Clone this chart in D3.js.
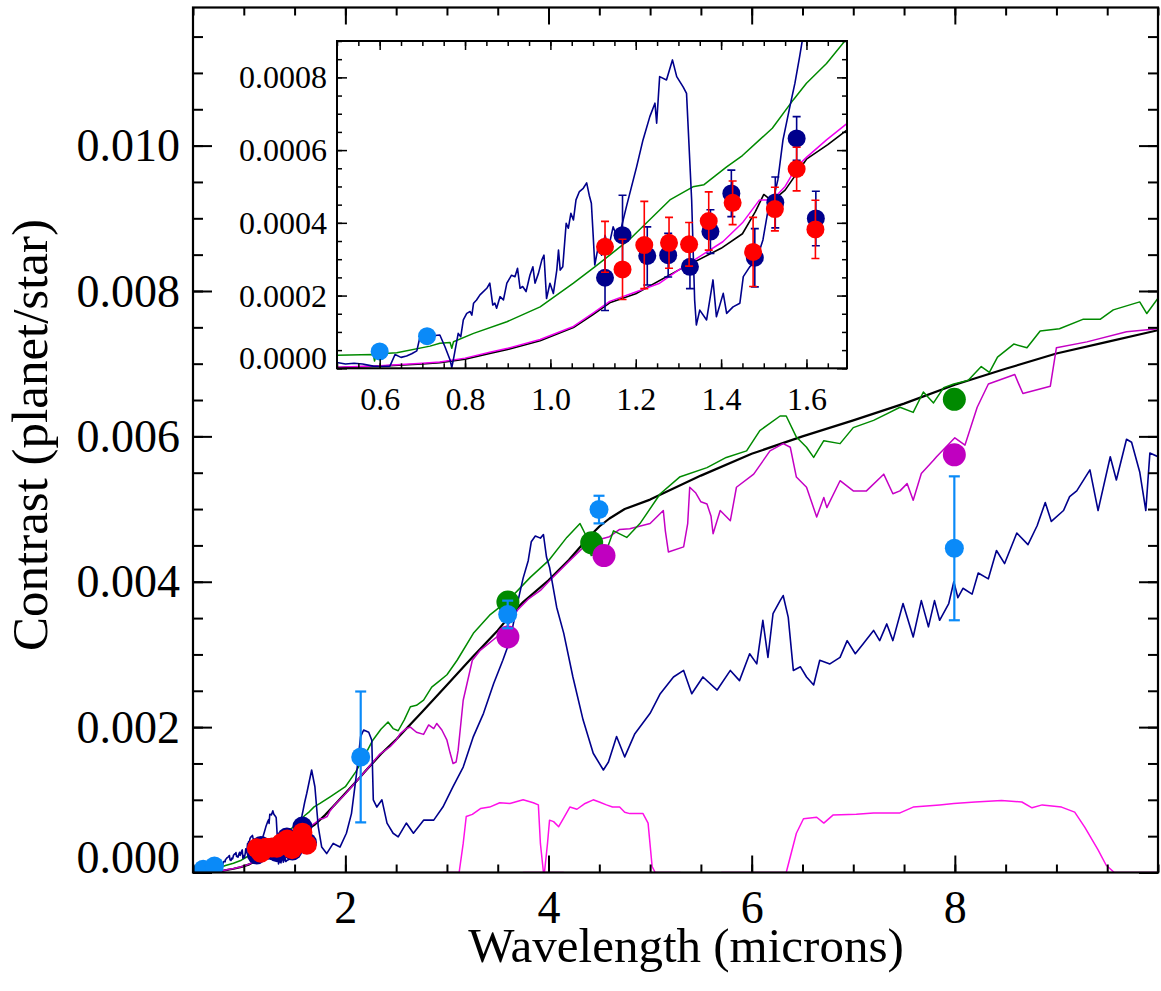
<!DOCTYPE html>
<html><head><meta charset="utf-8">
<script src="https://cdn.jsdelivr.net/npm/d3@7"></script>
<style>
body{margin:0;background:#fff}
svg{display:block}
text{font-family:"Liberation Serif","Times New Roman",serif;fill:#000}
</style>
</head><body>
<svg id="c" width="1161" height="991"></svg>
<script>
// ---------------- data (wavelength in microns, contrast planet/star) ----------------
const blackModel = [[0.5,0.000002],[0.6,0.000006],[0.7,0.000012],[0.741,0.0000155],[0.8,0.000025],[0.858,0.000041],[0.9,0.000052],[0.976,0.000076],[1.054,0.000112],[1.1,0.000148],[1.139,0.00018],[1.2,0.000205],[1.3,0.00027],[1.4,0.00033],[1.45,0.00037],[1.48,0.00043],[1.5,0.000478],[1.52,0.00046],[1.55,0.00049],[1.6,0.000575],[1.65,0.000615],[1.7,0.00066],[1.8,0.00079],[1.9,0.00094],[2.0,0.00109],[2.1,0.00124],[2.2,0.0014],[2.35,0.00163],[2.5,0.00183],[2.75,0.0022],[3.0,0.00258],[3.25,0.00296],[3.5,0.00333],[3.6,0.0035],[3.75,0.00372],[4.0,0.00402],[4.2,0.0043],[4.4,0.00462],[4.5,0.00476],[4.6,0.00487],[4.75,0.005],[5.0,0.00513],[5.5,0.00546],[6.0,0.00576],[6.5,0.006],[7.0,0.00622],[7.5,0.00645],[8.0,0.00671],[8.5,0.00693],[9.0,0.00714],[9.5,0.0073],[10.0,0.00746]];

const magentaModel = [[0.5,0.000003],[0.6,0.000007],[0.7,0.000014],[0.741,0.0000175],[0.8,0.000028],[0.858,0.000044],[0.9,0.000055],[0.976,0.000079],[1.054,0.000115],[1.1,0.000152],[1.139,0.000184],[1.2,0.00021],[1.256,0.000234],[1.3,0.00027],[1.404,0.000348],[1.45,0.0004],[1.49,0.000463],[1.52,0.000463],[1.55,0.0005],[1.577,0.000554],[1.6,0.00058],[1.647,0.000628],[1.7,0.000678],[1.75,0.00074],[1.78,0.00074],[1.82,0.00077],[1.85,0.00085],[1.9,0.00094],[2.0,0.00108],[2.2,0.0014],[2.34,0.00163],[2.44,0.00173],[2.5,0.00182],[2.54,0.00191],[2.6,0.00198],[2.64,0.002],[2.7,0.00193],[2.77,0.0019],[2.82,0.00203],[2.87,0.00198],[2.9,0.00205],[2.95,0.00196],[3.0,0.00182],[3.03,0.00165],[3.06,0.0015],[3.09,0.00152],[3.11,0.00168],[3.16,0.00237],[3.25,0.00292],[3.33,0.00306],[3.49,0.00324],[3.6,0.0034],[3.7,0.00362],[3.8,0.00376],[3.92,0.00388],[4.0,0.004],[4.2,0.00428],[4.4,0.00455],[4.5,0.00458],[4.6,0.00462],[4.7,0.00472],[4.8,0.00473],[5.0,0.0048],[5.13,0.00498],[5.15,0.0047],[5.18,0.00441],[5.33,0.00448],[5.37,0.0048],[5.39,0.0053],[5.45,0.00522],[5.5,0.0051],[5.56,0.00507],[5.6,0.0049],[5.62,0.00466],[5.69,0.00498],[5.79,0.00484],[5.85,0.0053],[6.02,0.00548],[6.18,0.0058],[6.31,0.0059],[6.38,0.00585],[6.44,0.00544],[6.54,0.0053],[6.64,0.00489],[6.71,0.00516],[6.74,0.00502],[6.87,0.00539],[7.0,0.00525],[7.13,0.00525],[7.3,0.00548],[7.39,0.00521],[7.46,0.00525],[7.53,0.00535],[7.59,0.00512],[7.67,0.00549],[7.79,0.00567],[7.82,0.00572],[8.0,0.00598],[8.1,0.00588],[8.22,0.0064],[8.33,0.00672],[8.59,0.00685],[8.62,0.00675],[8.67,0.00659],[8.94,0.00669],[9.0,0.00722],[9.3,0.0073],[9.69,0.00744],[10.0,0.00748]];

const greenModel = [[0.5,0.000036],[0.585,0.000038],[0.588,0.00002],[0.592,0.000039],[0.64,0.000043],[0.718,0.000061],[0.741,0.0000687],[0.765,0.000071],[0.769,0.000055],[0.773,0.000073],[0.82,0.000096],[0.898,0.000128],[0.976,0.000169],[1.054,0.000234],[1.104,0.000279],[1.139,0.000311],[1.186,0.000355],[1.28,0.000463],[1.334,0.000499],[1.36,0.000505],[1.413,0.000554],[1.45,0.000585],[1.49,0.000628],[1.52,0.00066],[1.569,0.000738],[1.6,0.000784],[1.647,0.000838],[1.692,0.000903],[1.75,0.00095],[1.85,0.00104],[2.0,0.00118],[2.1,0.00138],[2.15,0.0015],[2.27,0.00182],[2.35,0.00197],[2.42,0.00207],[2.47,0.00198],[2.52,0.00195],[2.58,0.0021],[2.64,0.00228],[2.7,0.0023],[2.77,0.00237],[2.85,0.00255],[2.93,0.00264],[3.0,0.00272],[3.1,0.00292],[3.26,0.00329],[3.42,0.00354],[3.6,0.00374],[3.82,0.00406],[4.0,0.00429],[4.18,0.00461],[4.31,0.0048],[4.36,0.00466],[4.42,0.00436],[4.5,0.0044],[4.57,0.00443],[4.64,0.0047],[4.77,0.00461],[4.9,0.0048],[5.1,0.00521],[5.29,0.00544],[5.56,0.00557],[5.75,0.00571],[5.95,0.0058],[6.08,0.00608],[6.28,0.00628],[6.34,0.00628],[6.44,0.00599],[6.54,0.00585],[6.61,0.00571],[6.71,0.00594],[6.87,0.0059],[7.0,0.00612],[7.2,0.00622],[7.33,0.00631],[7.46,0.0064],[7.59,0.00633],[7.69,0.00661],[7.79,0.00646],[7.89,0.00667],[7.99,0.00672],[8.13,0.00677],[8.26,0.00696],[8.34,0.00688],[8.42,0.00709],[8.58,0.00727],[8.71,0.00722],[8.84,0.00745],[9.03,0.00748],[9.26,0.00761],[9.43,0.00761],[9.56,0.00774],[9.82,0.00785],[9.89,0.00769],[10.0,0.0079]];

const navyModel = [[0.5,0.000016],[0.52,0.000012],[0.54,0.000014],[0.56,0.000012],[0.585,0.000006],[0.6,0.000005],[0.624,0.000006],[0.636,0.000038],[0.65,0.00003],[0.663,0.000034],[0.675,0.00004],[0.687,0.000048],[0.694,0.000084],[0.718,0.000089],[0.741,0.0000915],[0.753,0.0000594],[0.765,0.0000228],[0.769,0.000002],[0.774,0.000032],[0.784,0.000096],[0.79,0.000087],[0.796,0.000133],[0.804,0.000151],[0.812,0.000156],[0.816,0.000146],[0.82,0.000179],[0.827,0.000188],[0.835,0.000202],[0.851,0.00022],[0.858,0.000234],[0.865,0.000174],[0.87,0.000179],[0.874,0.000165],[0.882,0.000197],[0.89,0.000188],[0.898,0.000234],[0.909,0.000256],[0.917,0.000252],[0.923,0.000275],[0.929,0.00022],[0.935,0.000225],[0.943,0.000211],[0.952,0.000256],[0.959,0.000279],[0.964,0.000234],[0.972,0.000261],[0.98,0.000298],[0.985,0.000311],[0.991,0.000192],[0.999,0.000234],[1.007,0.000206],[1.015,0.00027],[1.019,0.000325],[1.023,0.00027],[1.029,0.000279],[1.037,0.000399],[1.042,0.000385],[1.048,0.000426],[1.054,0.000408],[1.06,0.000463],[1.068,0.000486],[1.077,0.000495],[1.085,0.00051],[1.091,0.000476],[1.096,0.000454],[1.1,0.000371],[1.104,0.000284],[1.112,0.000334],[1.12,0.000311],[1.128,0.000366],[1.136,0.00033],[1.147,0.000389],[1.159,0.000352],[1.178,0.000444],[1.19,0.000499],[1.202,0.000554],[1.217,0.000628],[1.233,0.000692],[1.245,0.000729],[1.249,0.000674],[1.256,0.000802],[1.272,0.000793],[1.286,0.000848],[1.296,0.000802],[1.311,0.000774],[1.319,0.000756],[1.331,0.000463],[1.338,0.000188],[1.342,0.000119],[1.35,0.00016],[1.366,0.000133],[1.381,0.000243],[1.389,0.000142],[1.405,0.000206],[1.413,0.000151],[1.428,0.000169],[1.444,0.000179],[1.452,0.000252],[1.467,0.000279],[1.483,0.000298],[1.498,0.000353],[1.51,0.000435],[1.522,0.000463],[1.533,0.000518],[1.545,0.000628],[1.561,0.000719],[1.573,0.000784],[1.584,0.000857],[1.6,0.00097],[1.62,0.00109],[1.668,0.00141],[1.7,0.00118],[1.733,0.00063],[1.767,0.00035],[1.816,0.00026],[1.88,0.0004],[1.947,0.00035],[2.01,0.00054],[2.06,0.00081],[2.11,0.00136],[2.15,0.00187],[2.18,0.00196],[2.23,0.00193],[2.26,0.00182],[2.275,0.001],[2.31,0.0009],[2.36,0.001],[2.41,0.00068],[2.47,0.00054],[2.52,0.00049],[2.6,0.00068],[2.67,0.00054],[2.77,0.00072],[2.87,0.00072],[2.96,0.0009],[3.06,0.00118],[3.16,0.00145],[3.26,0.00187],[3.36,0.00219],[3.46,0.0026],[3.55,0.00292],[3.62,0.00319],[3.7,0.00374],[3.75,0.00405],[3.8,0.00429],[3.83,0.00455],[3.87,0.00463],[3.92,0.0046],[3.95,0.00465],[3.98,0.00434],[4.01,0.0042],[4.08,0.00365],[4.15,0.00329],[4.24,0.00269],[4.34,0.0021],[4.44,0.00164],[4.54,0.00141],[4.59,0.00152],[4.67,0.00187],[4.75,0.00159],[4.85,0.00191],[5.0,0.00219],[5.1,0.00246],[5.23,0.00269],[5.33,0.00278],[5.41,0.00246],[5.52,0.00269],[5.66,0.00251],[5.79,0.00278],[5.88,0.00264],[5.98,0.00301],[6.05,0.00287],[6.11,0.00347],[6.16,0.00296],[6.21,0.00356],[6.28,0.00374],[6.31,0.00381],[6.36,0.00351],[6.41,0.00278],[6.48,0.00283],[6.54,0.00269],[6.61,0.00258],[6.67,0.00292],[6.77,0.00287],[6.87,0.00296],[6.94,0.00319],[7.02,0.00301],[7.1,0.00315],[7.2,0.00333],[7.26,0.00319],[7.33,0.00342],[7.39,0.00319],[7.49,0.0037],[7.59,0.00324],[7.67,0.00374],[7.74,0.00338],[7.8,0.00374],[7.85,0.00347],[7.94,0.0037],[7.99,0.004],[8.03,0.00378],[8.08,0.00391],[8.17,0.00383],[8.23,0.00412],[8.33,0.00404],[8.41,0.00443],[8.49,0.00425],[8.61,0.00467],[8.72,0.00451],[8.81,0.00477],[8.89,0.00509],[8.95,0.00483],[9.07,0.00498],[9.13,0.00517],[9.2,0.00525],[9.33,0.00554],[9.41,0.00498],[9.53,0.00572],[9.59,0.0054],[9.69,0.00596],[9.74,0.00592],[9.82,0.00551],[9.88,0.00498],[9.92,0.00577],[10.0,0.00572]];

// Spitzer/IRAC bandpass curves (drawn on the contrast scale)
const filter36 = [[2.96,0],[3.12,0],[3.16,0.0004],[3.19,0.00077],[3.25,0.0008],[3.33,0.00088],[3.42,0.0009],[3.52,0.00096],[3.62,0.00095],[3.75,0.001],[3.85,0.00096],[3.9,0.00093],[3.92,0.0004],[3.95,0],[4.15,0]];
const filter45 = [[3.75,0],[3.96,0],[3.99,0.0004],[4.01,0.00072],[4.05,0.0007],[4.1,0.00063],[4.15,0.00075],[4.21,0.0009],[4.28,0.00087],[4.36,0.00095],[4.44,0.001],[4.5,0.00097],[4.57,0.00093],[4.63,0.0009],[4.7,0.0009],[4.75,0.00083],[4.8,0.00081],[4.93,0.00081],[4.98,0.00068],[5.02,0.00008],[5.05,0],[5.3,0]];
const filter80 = [[5.7,0],[6.34,0],[6.44,0.00054],[6.51,0.00074],[6.64,0.00076],[6.71,0.00068],[6.8,0.00079],[7.03,0.0008],[7.2,0.00082],[7.46,0.00082],[7.59,0.0009],[7.85,0.00093],[7.99,0.00095],[8.2,0.00097],[8.46,0.00099],[8.66,0.00097],[8.76,0.00089],[8.86,0.00093],[9.05,0.0009],[9.18,0.00083],[9.28,0.00062],[9.41,0.00031],[9.49,0.0001],[9.57,0],[10.0,0]];

// observed points: [wavelength, contrast, error]
const bluePts = [[0.6,0.0000464,0],[0.711,0.0000884,0],[2.151,0.00159,0.0009],[3.598,0.00355,0.00019],[4.497,0.004993,0.00019],[7.995,0.00446,0.00099]];
const greenPts = [[3.6,0.00372],[4.425,0.004536],[7.995,0.00651]];
const magentaPts = [[3.6,0.00324],[4.546,0.00436],[7.995,0.005747]];
const navyPts = [[1.128,0.000249,0.00009],[1.169,0.000366,0.00011],[1.227,0.000309,0.00008],[1.276,0.000311,0.00006],[1.327,0.000279,0.00006],[1.375,0.000376,0.00006],[1.424,0.000481,0.000064],[1.479,0.000304,0.00008],[1.527,0.000456,0.00007],[1.577,0.000632,0.00006],[1.622,0.000412,0.000075]];
const redPts = [[1.128,0.000334,0.00007],[1.169,0.000272,0.000083],[1.22,0.000339,0.00012],[1.278,0.000345,0.00007],[1.325,0.000341,0.00006],[1.371,0.000405,0.00008],[1.427,0.000455,0.00006],[1.475,0.00032,0.000095],[1.526,0.000438,0.00006],[1.577,0.000548,0.00006],[1.621,0.000382,0.00008]];

// ticks
const mainXTicks = [2,4,6,8];
const mainYTicks = [0,0.002,0.004,0.006,0.008,0.010];
const insetXTicks = [0.6,0.8,1.0,1.2,1.4,1.6];
const insetYTicks = [0,0.0002,0.0004,0.0006,0.0008];
const xTitle = "Wavelength (microns)";
const yTitle = "Contrast (planet/star)";

// ---------------- drawing ----------------
const svg = d3.select("#c");
const W = 1161, H = 991;
svg.append("rect").attr("width", W).attr("height", H).attr("fill", "#fff");

const C = {black:"#000", magenta:"#c400c4", magentaIn:"#f000f0", filt:"#ff10e8", green:"#008a00", navy:"#00008c", blue:"#0a8af8", red:"#ff0000", magPt:"#c000c0"};

const M = {l:193, r:1158, t:7.5, b:872.5};
const x = d3.scaleLinear([0.5, 10], [M.l, M.r]);
const y = d3.scaleLinear([0, 0.0119], [M.b, M.t]);

const I = {l:337, r:847, t:41, b:368.3};
const xi = d3.scaleLinear([0.5, 1.695], [I.l, I.r]);
const yi = d3.scaleLinear([0, 0.0009], [I.b, I.t]);

const defs = svg.append("defs");
defs.append("clipPath").attr("id","clipMain").append("rect").attr("x",M.l).attr("y",M.t).attr("width",M.r-M.l).attr("height",M.b-M.t);
defs.append("clipPath").attr("id","clipIn").append("rect").attr("x",I.l).attr("y",I.t).attr("width",I.r-I.l).attr("height",I.b-I.t);

function drawLine(g, data, xs, ys, color, w) {
  g.append("path").datum(data)
    .attr("d", d3.line().x(d => xs(d[0])).y(d => ys(d[1])))
    .attr("fill","none").attr("stroke",color).attr("stroke-width",w)
    .attr("stroke-linejoin","round");
}
function drawPts(g, data, xs, ys, color, r, cap, ew) {
  const sel = g.append("g");
  data.forEach(d => {
    if (d[2]) {
      const x0 = xs(d[0]), y1 = ys(d[1]+d[2]), y2 = ys(d[1]-d[2]);
      sel.append("line").attr("x1",x0).attr("x2",x0).attr("y1",y1).attr("y2",y2).attr("stroke",color).attr("stroke-width",ew);
      sel.append("line").attr("x1",x0-cap).attr("x2",x0+cap).attr("y1",y1).attr("y2",y1).attr("stroke",color).attr("stroke-width",ew);
      sel.append("line").attr("x1",x0-cap).attr("x2",x0+cap).attr("y1",y2).attr("y2",y2).attr("stroke",color).attr("stroke-width",ew);
    }
  });
  sel.selectAll("circle").data(data).join("circle")
    .attr("cx", d => xs(d[0])).attr("cy", d => ys(d[1])).attr("r", r).attr("fill", color);
}

// main plot content
const gm = svg.append("g").attr("clip-path","url(#clipMain)");
[filter36, filter45, filter80].forEach(f => drawLine(gm, f, x, y, C.filt, 1.5));
drawLine(gm, blackModel, x, y, C.black, 2.2);
drawLine(gm, magentaModel, x, y, C.magenta, 1.5);
drawLine(gm, greenModel, x, y, C.green, 1.5);
drawLine(gm, navyModel, x, y, C.navy, 1.6);
drawPts(gm, navyPts, x, y, C.navy, 10, 4, 1.5);
drawPts(gm, redPts, x, y, C.red, 10, 4, 1.5);
drawPts(gm, greenPts, x, y, C.green, 11.5, 5, 2);
drawPts(gm, magentaPts, x, y, C.magPt, 11.5, 5, 2);
drawPts(gm, bluePts, x, y, C.blue, 9.5, 5.5, 2.2);

// axes helper (IDL style: ticks inward on all four sides)
function frameAxes(xs, ys, box, o) {
  const g = svg.append("g");
  const minorX = d3.range(Math.round((xs.domain()[0])/o.xMinStep), Math.floor(xs.domain()[1]/o.xMinStep+1e-6)+1).map(k => +(k*o.xMinStep).toFixed(4));
  const minorY = d3.range(0, Math.floor(ys.domain()[1]/o.yMinStep+1e-6)+1).map(k => +(k*o.yMinStep).toFixed(6));
  const mk = (axis, tr) => g.append("g").attr("transform", tr).call(axis);
  mk(d3.axisBottom(xs).tickValues(minorX).tickSizeInner(-o.xMin).tickSizeOuter(0).tickFormat(""), `translate(0,${box.b})`);
  mk(d3.axisTop(xs).tickValues(minorX).tickSizeInner(-o.xMin).tickSizeOuter(0).tickFormat(""), `translate(0,${box.t})`);
  mk(d3.axisLeft(ys).tickValues(minorY).tickSizeInner(-o.yMin).tickSizeOuter(0).tickFormat(""), `translate(${box.l},0)`);
  mk(d3.axisRight(ys).tickValues(minorY).tickSizeInner(-o.yMin).tickSizeOuter(0).tickFormat(""), `translate(${box.r},0)`);
  const bMaj = mk(d3.axisBottom(xs).tickValues(o.xTicks).tickSizeInner(-o.xMaj).tickSizeOuter(0).tickFormat(o.xFmt), `translate(0,${box.b})`);
  mk(d3.axisTop(xs).tickValues(o.xTicks).tickSizeInner(-o.xMaj).tickSizeOuter(0).tickFormat(""), `translate(0,${box.t})`);
  const lMaj = mk(d3.axisLeft(ys).tickValues(o.yTicks).tickSizeInner(-o.yMaj).tickSizeOuter(0).tickFormat(o.yFmt), `translate(${box.l},0)`);
  mk(d3.axisRight(ys).tickValues(o.yTicks).tickSizeInner(-o.yMaj).tickSizeOuter(0).tickFormat(""), `translate(${box.r},0)`);
  g.selectAll(".domain").remove();
  g.selectAll(".tick line").attr("stroke","#000").attr("stroke-width",o.tw);
  g.selectAll("text").attr("fill","#000").attr("font-family",'"Liberation Serif","Times New Roman",serif').attr("font-size",o.fs);
  bMaj.selectAll("text").attr("y", o.xLabY).attr("dy", null);
  lMaj.selectAll("text").attr("x", -o.yLabX).attr("dy", d => d === 0 ? "0em" : "0.33em");
  g.append("rect").attr("x",box.l).attr("y",box.t).attr("width",box.r-box.l).attr("height",box.b-box.t)
    .attr("fill","none").attr("stroke","#000").attr("stroke-width",o.fw);
}

frameAxes(x, y, M, {xTicks:mainXTicks, yTicks:mainYTicks, xMinStep:0.5, yMinStep:0.0005,
  xMaj:17, xMin:8, yMaj:19, yMin:10, tw:2, fw:2.2, fs:46, xLabY:50, yLabX:13,
  xFmt:d3.format("d"), yFmt:d3.format(".3f")});

// titles
svg.append("text").attr("x", 686).attr("y", 962).attr("text-anchor","middle")
  .attr("font-size", 49).text(xTitle);
svg.append("text").attr("transform","translate(47,435) rotate(-90)").attr("text-anchor","middle")
  .attr("font-size", 51).text(yTitle);

// inset
svg.append("rect").attr("x",I.l).attr("y",I.t).attr("width",I.r-I.l).attr("height",I.b-I.t).attr("fill","#fff");
const gi = svg.append("g").attr("clip-path","url(#clipIn)");
drawLine(gi, blackModel, xi, yi, C.black, 1.6);
drawLine(gi, magentaModel, xi, yi, C.magentaIn, 1.5);
drawLine(gi, greenModel, xi, yi, C.green, 1.5);
drawLine(gi, navyModel, xi, yi, C.navy, 1.6);
drawPts(gi, bluePts.filter(d => d[0] < 1.7), xi, yi, C.blue, 9, 4, 1.5);
drawPts(gi, navyPts, xi, yi, C.navy, 9, 4, 1.6);
drawPts(gi, redPts, xi, yi, C.red, 9, 4, 1.6);

frameAxes(xi, yi, I, {xTicks:insetXTicks, yTicks:insetYTicks, xMinStep:0.05, yMinStep:0.00005,
  xMaj:9, xMin:5, yMaj:10, yMin:5, tw:1.5, fw:2, fs:32, xLabY:41.7, yLabX:10,
  xFmt:d3.format(".1f"), yFmt:d3.format(".4f")});
</script>
</body></html>
